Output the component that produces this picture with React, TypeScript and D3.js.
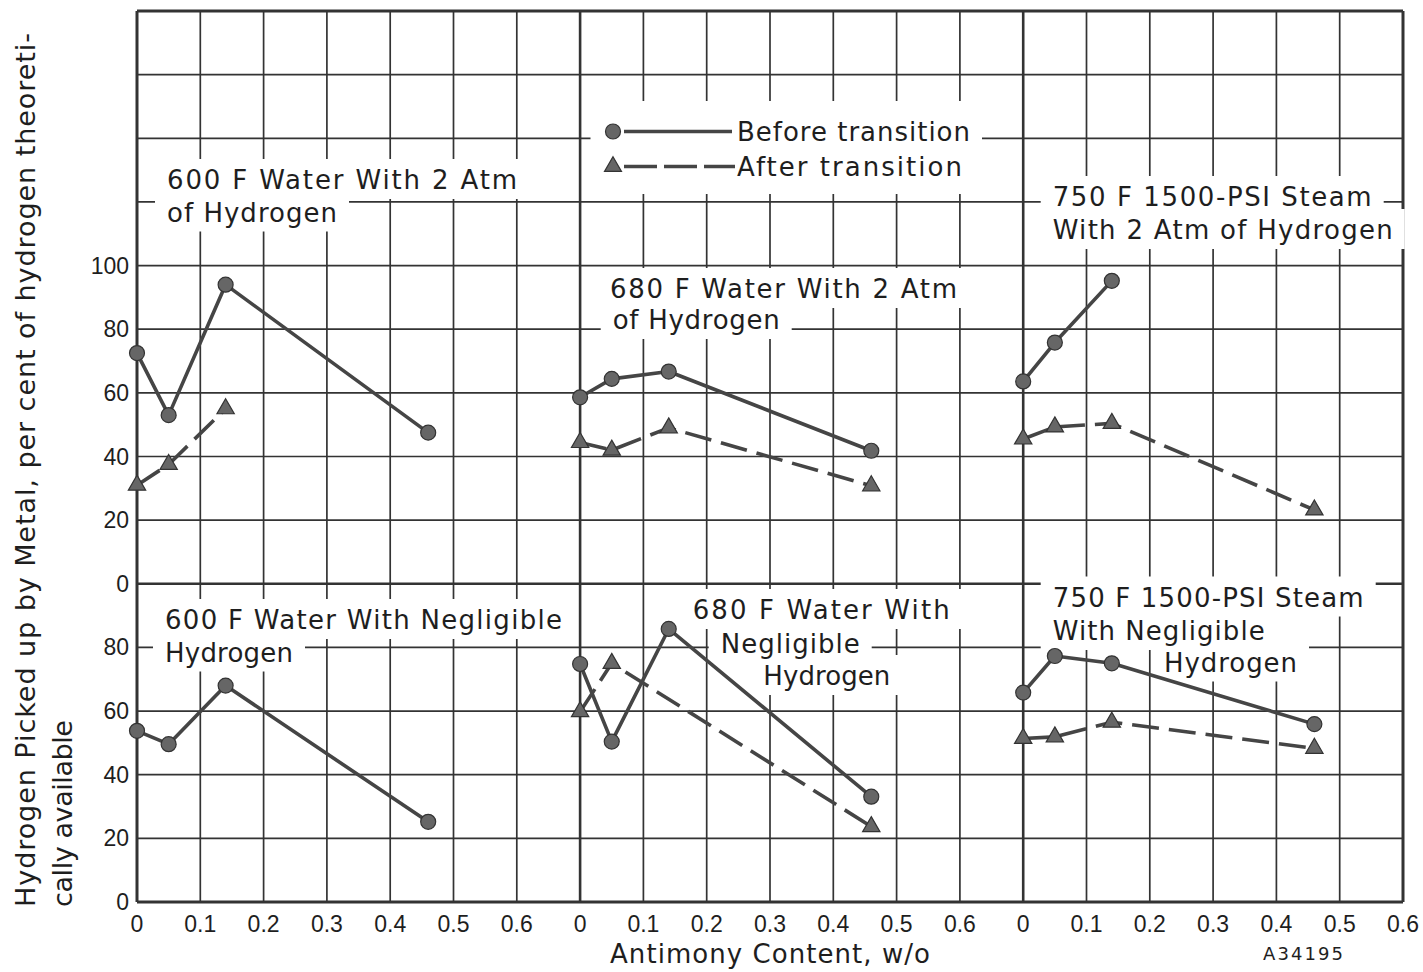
import React, { useEffect, useRef } from "react";
import * as d3 from "d3";

const W = 1423;
const H = 972;

// Antimony content (w/o) values at which the specimens were tested
const sbAll = [0, 0.05, 0.14, 0.46];
const sbFirstThree = [0, 0.05, 0.14];
const sbSkip014 = [0, 0.05, 0.46];

// Tick values / labels
const xTicks = [0, 0.1, 0.2, 0.3, 0.4, 0.5, 0.6];
const xTickLabels = ["0", "0.1", "0.2", "0.3", "0.4", "0.5", "0.6"];
const yTicksTop = [0, 20, 40, 60, 80, 100];
const yTicksBottom = [0, 20, 40, 60, 80];

// Top row: with 2 atm of hydrogen (per cent picked up)
const h600Before = [72.5, 53, 94, 47.5];
const h600After = [31, 37.5, 55];
const h680Before = [58.6, 64.4, 66.7, 41.8];
const h680After = [44.4, 42, 49, 30.8];
const h750Before = [63.6, 75.8, 95.2];
const h750After = [45.5, 49.3, 50.4, 23.2];

// Bottom row: with negligible hydrogen
const n600Before = [53.8, 49.6, 68, 25.2];
const n680Before = [74.8, 50.4, 85.8, 33.1];
const n680After = [59.8, 75, 23.7];
const n750Before = [65.8, 77.3, 75, 55.9];
const n750After = [51.4, 51.9, 56.5, 48.3];

type Series = { panel: number; row: "top" | "bottom"; xs: number[]; ys: number[]; kind: "before" | "after" };

const series: Series[] = [
  { panel: 0, row: "top", xs: sbAll, ys: h600Before, kind: "before" },
  { panel: 0, row: "top", xs: sbFirstThree, ys: h600After, kind: "after" },
  { panel: 1, row: "top", xs: sbAll, ys: h680Before, kind: "before" },
  { panel: 1, row: "top", xs: sbAll, ys: h680After, kind: "after" },
  { panel: 2, row: "top", xs: sbFirstThree, ys: h750Before, kind: "before" },
  { panel: 2, row: "top", xs: sbAll, ys: h750After, kind: "after" },
  { panel: 0, row: "bottom", xs: sbAll, ys: n600Before, kind: "before" },
  { panel: 1, row: "bottom", xs: sbAll, ys: n680Before, kind: "before" },
  { panel: 1, row: "bottom", xs: sbSkip014, ys: n680After, kind: "after" },
  { panel: 2, row: "bottom", xs: sbAll, ys: n750Before, kind: "before" },
  { panel: 2, row: "bottom", xs: sbAll, ys: n750After, kind: "after" },
];

const legendLabels = ["Before transition", "After transition"];

// Text annotations (layout)
const annotations = [
  { t: "600 F Water With 2 Atm", x: 167, y: 189, len: 350 },
  { t: "of Hydrogen", x: 167, y: 221.5, len: 170 },
  { t: "680 F Water With 2 Atm", x: 610, y: 298, len: 347 },
  { t: "of Hydrogen", x: 612.7, y: 329, len: 167 },
  { t: "750 F 1500-PSI Steam", x: 1052.7, y: 206, len: 319 },
  { t: "With 2 Atm of Hydrogen", x: 1052.7, y: 239, len: 340 },
  { t: "600 F Water With Negligible", x: 165, y: 629, len: 397 },
  { t: "Hydrogen", x: 165, y: 661.5, len: 128 },
  { t: "680 F Water With", x: 692.7, y: 619, len: 257 },
  { t: "Negligible", x: 720.7, y: 653, len: 139 },
  { t: "Hydrogen", x: 763.3, y: 685, len: 127 },
  { t: "750 F 1500-PSI Steam", x: 1052.7, y: 606.5, len: 311 },
  { t: "With Negligible", x: 1052.7, y: 640, len: 212, padR: 32 },
  { t: "Hydrogen", x: 1164, y: 671.5, len: 133 },
];

const FONT = "'DejaVu Sans', sans-serif";
const TICKFONT = "'Liberation Sans', Arial, sans-serif";
const INK = "#1e1e1e";
const GRID = "#333";
const DATA = "#454545";
const MARK = "#666";

export default function App() {
  const ref = useRef<SVGSVGElement>(null);

  useEffect(() => {
    const svg = d3.select(ref.current);
    svg.selectAll("*").remove();

    const left = 137, right = 1403, top = 11, bottom = 902;
    const gx = d3.scaleLinear().domain([0, 20]).range([left, right]);
    const gy = d3.scaleLinear().domain([0, 14]).range([bottom, top]);
    const panelStart = [0, 7, 14];
    const xScale = (p: number) =>
      d3.scaleLinear().domain([0, 0.6]).range([gx(panelStart[p]), gx(panelStart[p] + 6)]);
    const yTop = d3.scaleLinear().domain([0, 180]).range([gy(5), gy(14)]);
    const yBottom = d3.scaleLinear().domain([0, 100]).range([gy(0), gy(5)]);

    const gGrid = svg.append("g");
    const gKnock = svg.append("g");
    const gText = svg.append("g");
    const gData = svg.append("g");

    // grid
    d3.range(0, 21).forEach((i) => {
      const w = i === 0 || i === 20 ? 3 : panelStart.includes(i) ? 2.6 : 1.7;
      gGrid.append("line").attr("x1", gx(i)).attr("x2", gx(i)).attr("y1", top).attr("y2", bottom)
        .attr("stroke", GRID).attr("stroke-width", w);
    });
    d3.range(0, 15).forEach((j) => {
      const w = j === 0 || j === 14 ? 3 : j === 5 ? 2.4 : 1.7;
      gGrid.append("line").attr("x1", left).attr("x2", right).attr("y1", gy(j)).attr("y2", gy(j))
        .attr("stroke", GRID).attr("stroke-width", w);
    });

    // tick labels
    [0, 1, 2].forEach((p) => {
      const xs = xScale(p);
      xTicks.forEach((v, i) => {
        gText.append("text").attr("x", xs(v)).attr("y", 932).attr("text-anchor", "middle")
          .attr("font-family", TICKFONT).attr("font-size", 23).attr("fill", INK).text(xTickLabels[i]);
      });
    });
    yTicksTop.forEach((v) => {
      gText.append("text").attr("x", 129).attr("y", yTop(v) + 8).attr("text-anchor", "end")
        .attr("font-family", TICKFONT).attr("font-size", 23).attr("fill", INK).text(String(v));
    });
    yTicksBottom.forEach((v) => {
      gText.append("text").attr("x", 129).attr("y", yBottom(v) + 8).attr("text-anchor", "end")
        .attr("font-family", TICKFONT).attr("font-size", 23).attr("fill", INK).text(String(v));
    });

    // axis titles
    gText.append("text").attr("x", 770).attr("y", 963).attr("text-anchor", "middle")
      .attr("font-family", FONT).attr("font-size", 26).attr("fill", INK)
      .attr("textLength", 320).attr("lengthAdjust", "spacing").text("Antimony Content, w/o");
    gText.append("text").attr("transform", "translate(35,907) rotate(-90)")
      .attr("font-family", FONT).attr("font-size", 27).attr("fill", INK)
      .attr("textLength", 874).attr("lengthAdjust", "spacing")
      .text("Hydrogen Picked up by Metal, per cent of hydrogen theoreti-");
    gText.append("text").attr("transform", "translate(72,907) rotate(-90)")
      .attr("font-family", FONT).attr("font-size", 27).attr("fill", INK)
      .attr("textLength", 187).attr("lengthAdjust", "spacing").text("cally available");
    gText.append("text").attr("x", 1263).attr("y", 960)
      .attr("font-family", FONT).attr("font-size", 18).attr("fill", INK)
      .attr("textLength", 80).attr("lengthAdjust", "spacing").text("A34195");

    // annotations with white knockouts
    annotations.forEach((a: any) => {
      const t = gText.append("text").attr("x", a.x).attr("y", a.y)
        .attr("font-family", FONT).attr("font-size", 26).attr("fill", INK)
        .attr("textLength", a.len).attr("lengthAdjust", "spacing").text(a.t);
      const bb = (t.node() as SVGTextElement).getBBox();
      const padR = a.padR ?? 12;
      gKnock.append("rect").attr("x", bb.x - 12).attr("y", bb.y - 6)
        .attr("width", bb.width + 12 + padR).attr("height", bb.height + 10).attr("fill", "#fff");
    });

    // legend
    const gLeg = gText.append("g");
    const legY = [131.5, 166.5];
    gLeg.append("circle").attr("cx", 613).attr("cy", legY[0]).attr("r", 7.5)
      .attr("fill", MARK).attr("stroke", "#333").attr("stroke-width", 1.2);
    gLeg.append("line").attr("x1", 624).attr("x2", 732).attr("y1", legY[0]).attr("y2", legY[0])
      .attr("stroke", DATA).attr("stroke-width", 3.5);
    gLeg.append("path").attr("d", d3.symbol(d3.symbolTriangle, 125)())
      .attr("transform", `translate(613,${legY[1]})`)
      .attr("fill", MARK).attr("stroke", "#333").attr("stroke-width", 1.2);
    gLeg.append("line").attr("x1", 624).attr("x2", 735).attr("y1", legY[1]).attr("y2", legY[1])
      .attr("stroke", DATA).attr("stroke-width", 3.5).attr("stroke-dasharray", "33,7");
    legendLabels.forEach((l, i) => {
      gLeg.append("text").attr("x", 737).attr("y", legY[i] + 9.5)
        .attr("font-family", FONT).attr("font-size", 26).attr("fill", INK)
        .attr("textLength", i === 0 ? 233 : 225).attr("lengthAdjust", "spacing").text(l);
    });
    const lb = (gLeg.node() as SVGGElement).getBBox();
    gKnock.append("rect").attr("x", lb.x - 14).attr("y", lb.y - 16)
      .attr("width", lb.width + 26).attr("height", lb.height + 28).attr("fill", "#fff");

    // data
    series.forEach((s) => {
      const xs = xScale(s.panel);
      const ys = s.row === "top" ? yTop : yBottom;
      const pts: [number, number][] = s.xs.map((x, i) => [xs(x), ys(s.ys[i])]);
      gData.append("path").attr("d", d3.line()(pts)).attr("fill", "none")
        .attr("stroke", DATA).attr("stroke-width", 3.6)
        .attr("stroke-linejoin", "round")
        .attr("stroke-dasharray", s.kind === "after" ? "27,10" : null);
      pts.forEach(([px, py]) => {
        if (s.kind === "before") {
          gData.append("circle").attr("cx", px).attr("cy", py).attr("r", 7.5)
            .attr("fill", MARK).attr("stroke", "#333").attr("stroke-width", 1.2);
        } else {
          gData.append("path").attr("d", d3.symbol(d3.symbolTriangle, 130)())
            .attr("transform", `translate(${px},${py})`)
            .attr("fill", MARK).attr("stroke", "#333").attr("stroke-width", 1.2);
        }
      });
    });
  }, []);

  return (
    <svg ref={ref} width={W} height={H}
      style={{ position: "absolute", left: 0, top: 0, background: "#fff", display: "block" }} />
  );
}
